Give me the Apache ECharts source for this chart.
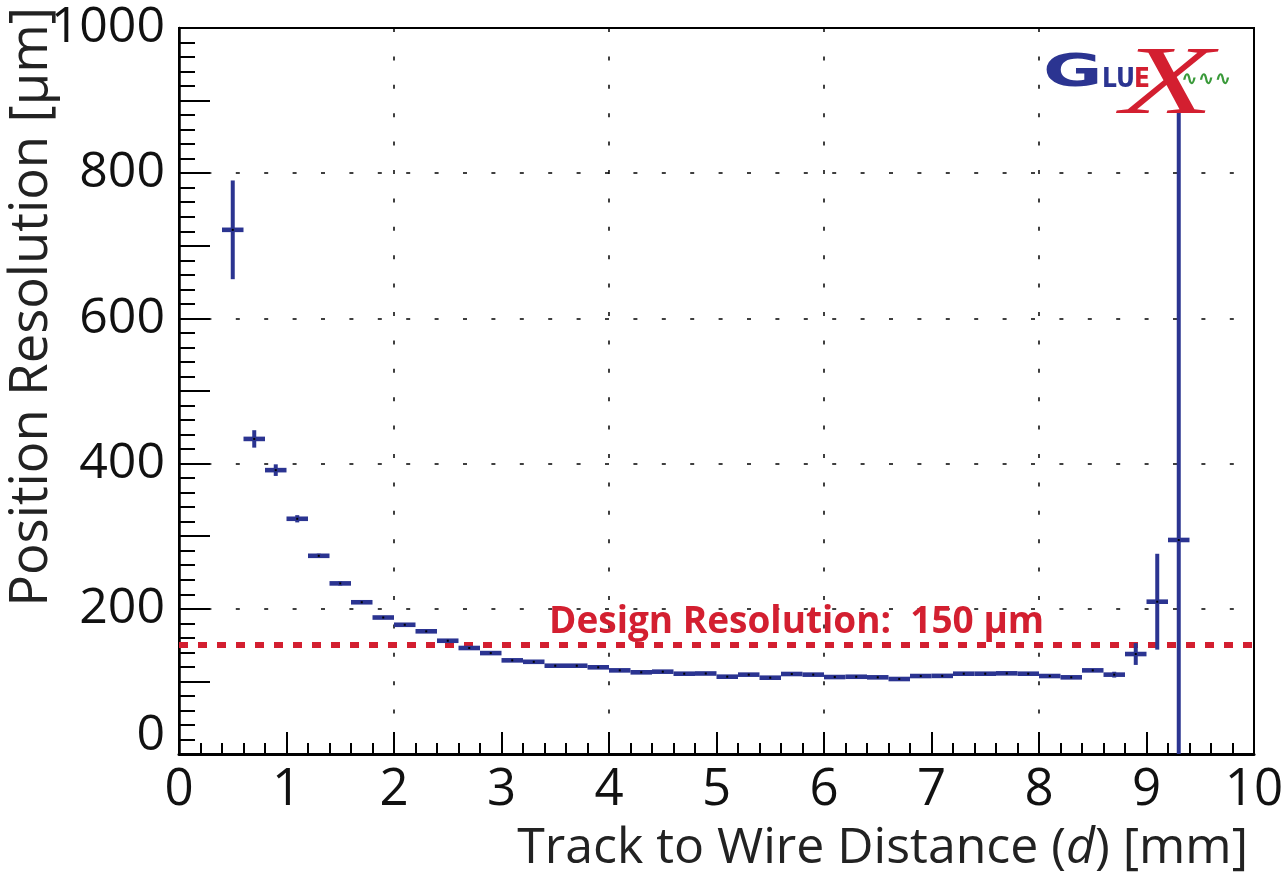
<!DOCTYPE html>
<html>
<head>
<meta charset="utf-8">
<script src="https://cdn.jsdelivr.net/npm/echarts@6/dist/echarts.min.js"></script>
<style>
html,body{margin:0;padding:0;background:#fff;}
#chart{width:1286px;height:882px;}
</style>
</head>
<body>
<div id="chart"></div>
<script>
// ---- data ----
const binCenters = [0.5, 0.7, 0.9, 1.1, 1.3, 1.5, 1.7, 1.9, 2.1, 2.3, 2.5, 2.7, 2.9, 3.1, 3.3,
  3.5, 3.7, 3.9, 4.1, 4.3, 4.5, 4.7, 4.9, 5.1, 5.3, 5.5, 5.7, 5.9, 6.1, 6.3, 6.5, 6.7, 6.9,
  7.1, 7.3, 7.5, 7.7, 7.9, 8.1, 8.3, 8.5, 8.7, 8.9, 9.1, 9.3];
const resolution = [722, 434, 391, 324, 273, 235, 209, 188, 178, 169, 156, 146, 139, 129, 127,
  121.6, 121.6, 119.4, 115.2, 112.5, 113.4, 110.6, 110.9, 106.5, 109.3, 105.1, 110.2, 109.3, 106, 106.4, 105.6, 103.3, 107.4,
  107.6, 110.6, 110.6, 111.1, 110.6, 107.4, 105.6, 115.2, 109.3, 137.7, 209.8, 294.8];
const resolutionErr = [68, 12, 8, 5, 3, 3, 2, 2, 2, 2, 2, 2, 2, 2, 2,
  2, 2, 2, 2, 2, 2, 2, 2, 2, 2, 2, 2, 2, 2, 2, 2, 2, 2,
  2, 2, 2, 2, 2, 2, 2, 2, 4, 15, 66, 590];
const binWidth = 0.2;
const DESIGN_RESOLUTION = 150;
const xTitle = 'Track to Wire Distance ({i|d}) [mm]';
const yTitle = 'Position Resolution [μm]';
const designLabel = 'Design Resolution:  150 μm';

// ---- styles ----
const FONT = 'Open Sans';
const BLUE = '#2b3491';
const RED = '#d31f30';

const seriesData = binCenters.map((x, i) => [x, resolution[i], resolutionErr[i]]);

const chart = echarts.init(document.getElementById('chart'), null, {renderer: 'canvas'});

function renderErr(params, api) {
  const x = api.value(0), y = api.value(1), e = api.value(2);
  const cs = params.coordSys;
  const pL = api.coord([x - binWidth / 2, y]);
  const pR = api.coord([x + binWidth / 2, y]);
  const pT = api.coord([x, y + e]);
  const pB = api.coord([x, y - e]);
  const top = Math.max(cs.y, pT[1]);
  const bot = Math.min(cs.y + cs.height, pB[1]);
  const c = api.coord([x, y]);
  const hb = 4.6, vb = 4;
  return {
    type: 'group',
    children: [
      {type: 'rect', shape: {x: c[0] - vb / 2, y: top, width: vb, height: Math.max(0, bot - top)},
        style: {fill: BLUE}},
      {type: 'rect', shape: {x: pL[0], y: c[1] - hb / 2, width: pR[0] - pL[0], height: hb},
        style: {fill: BLUE}},
      {type: 'rect', shape: {x: c[0] - 1, y: c[1] - 1, width: 2, height: 2},
        style: {fill: '#000'}}
    ]
  };
}

const option = {
  backgroundColor: '#fff',
  animation: false,
  grid: {
    left: 179, right: 32, top: 28, bottom: 128,
    show: true, borderColor: '#000', borderWidth: 2, backgroundColor: 'transparent',
    containLabel: false, outerBoundsMode: 'none'
  },
  xAxis: [
    {
      type: 'value', min: 0, max: 10, interval: 1, position: 'bottom',
      axisLine: {show: true, onZero: false, lineStyle: {color: '#000', width: 3}},
      axisTick: {show: true, inside: true, length: 22, lineStyle: {color: '#000', width: 2}},
      minorTick: {show: true, splitNumber: 5, length: 11, lineStyle: {color: '#000', width: 2}},
      axisLabel: {show: true, margin: 11, color: '#111', fontFamily: FONT, fontSize: 51},
      splitLine: {show: false}
    },
    {
      type: 'value', min: 0, max: 10, interval: 2, position: 'bottom',
      axisLine: {show: false}, axisTick: {show: false}, axisLabel: {show: false},
      splitLine: {show: true, lineStyle: {color: '#000', width: 1.5, type: [4, 24.4]}}
    }
  ],
  yAxis: [
    {
      type: 'value', min: 0, max: 1000, interval: 200, position: 'left',
      axisLine: {show: true, onZero: false, lineStyle: {color: '#000', width: 2.5}},
      axisTick: {show: false},
      axisLabel: {
        show: true, margin: 14, color: '#111', fontFamily: FONT, fontSize: 50,
        formatter: v => v === 0 ? '{z|0}' : String(v),
        rich: {z: {fontFamily: FONT, fontSize: 50, color: '#111', padding: [0, 0, 36, 0]}}
      },
      splitLine: {show: true, lineStyle: {color: '#000', width: 1.5, type: [4, 24.4]}}
    },
    {
      type: 'value', min: 0, max: 1000, interval: 100, position: 'left',
      axisLine: {show: false},
      axisTick: {show: true, inside: true, length: 31, lineStyle: {color: '#000', width: 2}},
      minorTick: {show: true, splitNumber: 5, length: 16, lineStyle: {color: '#000', width: 2}},
      axisLabel: {show: false},
      splitLine: {show: false}
    }
  ],
  series: [
    {
      type: 'custom',
      xAxisIndex: 0, yAxisIndex: 0,
      renderItem: renderErr,
      data: seriesData,
      z: 3,
      markLine: {
        silent: true, symbol: 'none', z: 2,
        label: {show: false},
        lineStyle: {color: RED, width: 6, type: [9, 10]},
        data: [{yAxis: DESIGN_RESOLUTION}]
      }
    }
  ],
  graphic: [
    {
      type: 'text', x: 1248, y: 874, z: 100,
      style: {
        text: xTitle, align: 'right', verticalAlign: 'bottom',
        fontFamily: FONT, fontSize: 50, fill: '#222',
        rich: {i: {fontFamily: FONT, fontSize: 50, fontStyle: 'italic', fill: '#222'}}
      }
    },
    {
      type: 'text', x: 32, y: 7, rotation: Math.PI / 2, z: 100,
      style: {
        text: yTitle, align: 'right', verticalAlign: 'middle',
        fontFamily: FONT, fontSize: 52.5, fill: '#222'
      }
    },
    {
      type: 'text', x: 549, y: 641, z: 100,
      style: {
        text: designLabel, align: 'left', verticalAlign: 'bottom',
        fontFamily: FONT, fontSize: 37, fontWeight: 'bold', fill: RED
      }
    },
    // GlueX logo
    {
      type: 'text', x: 1043, y: 97, scaleX: 1.65, z: 100,
      style: {text: 'G', verticalAlign: 'bottom', fontFamily: 'DejaVu Sans', fontWeight: 'bold', fontSize: 44, fill: BLUE}
    },
    {
      type: 'text', x: 1102, y: 93, scaleX: 0.9, z: 100,
      style: {text: 'LU', verticalAlign: 'bottom', fontFamily: 'DejaVu Sans', fontWeight: 'bold', fontSize: 26, fill: BLUE}
    },
    {
      type: 'text', x: 1121, y: 136, scaleX: 1.55, z: 101,
      style: {text: 'X', verticalAlign: 'bottom', fontFamily: 'Liberation Serif', fontStyle: 'italic', fontSize: 98, fill: RED}
    },
    {
      type: 'text', x: 1134, y: 93, scaleX: 0.9, z: 102,
      style: {text: 'E', verticalAlign: 'bottom', fontFamily: 'DejaVu Sans', fontWeight: 'bold', fontSize: 26, fill: RED}
    },
    {
      type: 'text', x: 1181, y: 90, z: 103,
      style: {text: '∿∿∿', verticalAlign: 'bottom', fontFamily: 'DejaVu Sans', fontWeight: 'bold', fontSize: 20, fill: '#3a9a3a'}
    }
  ]
};

chart.setOption(option);
</script>
</body>
</html>
